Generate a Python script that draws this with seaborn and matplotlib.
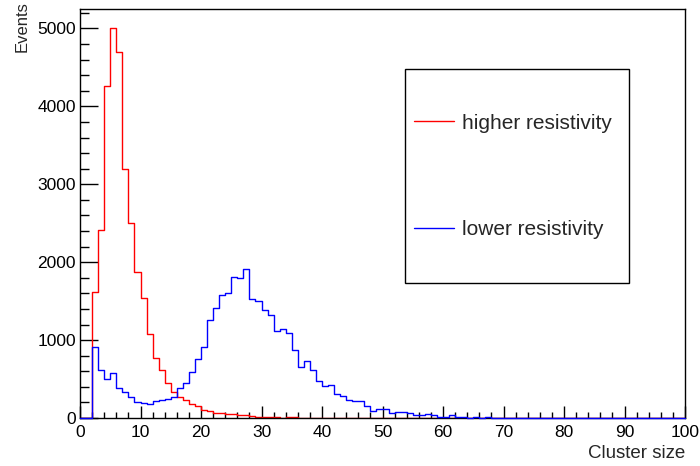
import numpy as np
import pandas as pd
import matplotlib.pyplot as plt
from matplotlib.ticker import MultipleLocator
from matplotlib.patches import Rectangle
from matplotlib.lines import Line2D
import seaborn as sns

# --- данні: кількість подій у бінах по 1 (розмір кластера від 0 до 100) ---
bin_edges = np.arange(0, 101, 1)

higher_res = [
    0, 0, 1620, 2410, 4260, 5000, 4700, 3200, 2500, 1880,
    1535, 1075, 770, 620, 455, 335, 275, 232, 185, 150,
    103, 94, 69, 58, 56, 50, 38, 35, 20, 18,
    16, 15, 12, 6, 12, 10, 5, 4, 4, 3,
    3, 2, 2, 1, 1, 1, 0, 0, 0, 0,
    0, 0, 0, 0, 0, 0, 0, 0, 0, 0,
    0, 0, 0, 0, 0, 0, 0, 0, 0, 0,
    0, 0, 0, 0, 0, 0, 0, 0, 0, 0,
    0, 0, 0, 0, 0, 0, 0, 0, 0, 0,
    0, 0, 0, 0, 0, 0, 0, 0, 0, 0,
]

lower_res = [
    0, 0, 910, 620, 500, 580, 390, 330, 266, 205,
    198, 180, 219, 228, 245, 275, 380, 445, 590, 756,
    911, 1254, 1410, 1580, 1606, 1813, 1796, 1907, 1530, 1499,
    1392, 1327, 1113, 1147, 1095, 872, 661, 730, 615, 480,
    415, 425, 310, 286, 232, 215, 212, 160, 94, 112,
    112, 62, 82, 80, 60, 40, 40, 52, 35, 17,
    8, 39, 8, 10, 6, 8, 5, 7, 4, 6,
    5, 3, 4, 3, 2, 3, 0, 0, 0, 0,
    0, 0, 0, 0, 0, 0, 0, 6, 0, 0,
    0, 0, 0, 0, 0, 0, 0, 0, 0, 0,
]

labels = ['higher resistivity', 'lower resistivity']
colors = ['#ff0000', '#0000ff']

df = pd.DataFrame({
    'size': bin_edges[:-1] + 0.5,
    'higher': higher_res,
    'lower': lower_res,
})

sns.set_style('white')
plt.rcParams['font.family'] = ['Liberation Sans', 'DejaVu Sans']

fig = plt.figure(figsize=(7, 4.66), dpi=100)
ax = fig.add_axes([0.1143, 0.103, 0.8643, 0.8777])

# гістограми у стилі ROOT (лише контур); синя лежить поверх рамки осей
sns.histplot(data=df, x='size', weights='higher', binwidth=1, binrange=(0, 100),
             element='step', fill=False, color=colors[0], linewidth=1, zorder=2,
             ax=ax)
sns.histplot(data=df, x='size', weights='lower', binwidth=1, binrange=(0, 100),
             element='step', fill=False, color=colors[1], linewidth=1, zorder=3,
             clip_on=False, ax=ax)

ax.set_xlim(0, 100)
ax.set_ylim(0, 5250)
ax.xaxis.set_major_locator(MultipleLocator(10))
ax.xaxis.set_minor_locator(MultipleLocator(2))
ax.yaxis.set_major_locator(MultipleLocator(1000))
ax.yaxis.set_minor_locator(MultipleLocator(200))

ax.tick_params(axis='both', which='both', direction='in', colors='black',
               labelsize=12.5, bottom=True, left=True, top=False, right=False)
ax.tick_params(axis='x', which='major', length=8.7, width=1, pad=5)
ax.tick_params(axis='x', which='minor', length=4.3, width=1)
ax.tick_params(axis='y', which='major', length=13, width=1, pad=3)
ax.tick_params(axis='y', which='minor', length=6.5, width=1)

for sp in ax.spines.values():
    sp.set_color('black')
    sp.set_linewidth(1)

ax.set_xlabel('Cluster size', fontsize=13.5, loc='right')
ax.xaxis.set_label_coords(1.0, -0.066)
ax.set_ylabel('Events', fontsize=12, loc='top')
ax.yaxis.set_label_coords(-0.083, 1.02)

# легенда з рамкою
handles = [Line2D([], [], color=c, lw=1) for c in colors]
ax.legend(handles, labels, loc='center', bbox_to_anchor=(0.716, 0.591),
          frameon=False, fontsize=15, handlelength=1.9, handletextpad=0.4,
          labelspacing=4.2)
ax.add_patch(Rectangle((0.537, 0.330), 0.370, 0.523, transform=ax.transAxes,
                       fill=False, edgecolor='black', linewidth=1))

fig.savefig('out.png', dpi=100)
